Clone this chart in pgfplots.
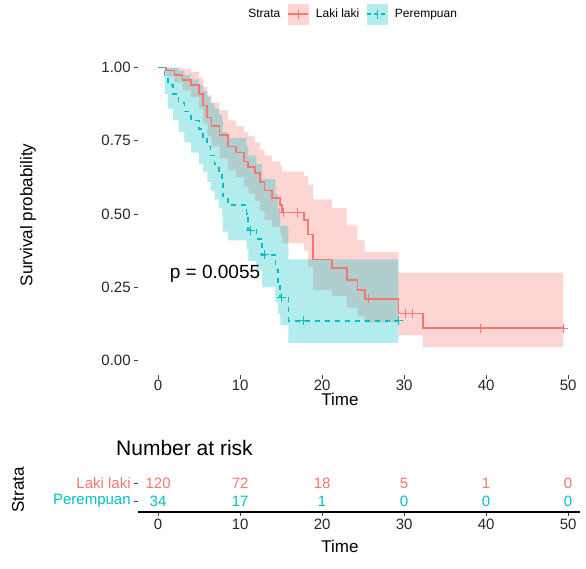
\documentclass[border=0pt]{standalone}
\usepackage{pgfplots}
\pgfplotsset{compat=1.18}
\usepackage{pgfplotstable}
\usepgfplotslibrary{fillbetween}
\usepackage{fontspec}
\setmainfont{Liberation Sans}
\definecolor{laki}{HTML}{F8766D}
\definecolor{pere}{HTML}{00BFC4}

\pgfplotstableread{
t S up lo
0 1 1 1
1 0.99 1 0.97
2 0.975 1 0.95
3 0.958 0.995 0.922
4 0.94 0.985 0.90
5 0.91 0.965 0.86
5.5 0.87 0.935 0.81
6 0.83 0.905 0.765
6.5 0.80 0.88 0.73
7.5 0.77 0.855 0.69
8.5 0.73 0.82 0.65
9.5 0.71 0.80 0.625
10.5 0.68 0.78 0.595
11 0.66 0.765 0.57
11.8 0.64 0.745 0.545
12.4 0.61 0.72 0.51
13 0.58 0.70 0.48
13.9 0.555 0.68 0.455
14.9 0.53 0.665 0.43
15.1 0.505 0.645 0.40
17.8 0.48 0.63 0.375
18.3 0.43 0.60 0.32
18.9 0.345 0.55 0.24
21.2 0.315 0.52 0.22
23 0.275 0.46 0.18
24.3 0.24 0.41 0.15
25.2 0.21 0.37 0.13
29.3 0.16 0.30 0.085
32.3 0.11 0.30 0.045
49.4 0.11 0.30 0.045
}\lakitab

\pgfplotstableread{
t S up lo
0 1 1 1
0.8 0.97 1 0.91
1.2 0.94 1 0.86
1.8 0.91 1 0.82
2.5 0.88 0.99 0.78
3.2 0.85 0.975 0.745
4.0 0.82 0.96 0.71
5.0 0.79 0.94 0.67
5.5 0.76 0.92 0.645
6.0 0.73 0.90 0.61
6.4 0.70 0.88 0.58
6.9 0.67 0.86 0.55
7.4 0.64 0.84 0.52
7.8 0.61 0.82 0.49
7.9 0.56 0.78 0.44
8.5 0.53 0.76 0.41
10.8 0.50 0.73 0.38
11.0 0.445 0.70 0.34
12.0 0.415 0.67 0.31
12.7 0.36 0.62 0.25
14.3 0.31 0.57 0.20
14.6 0.26 0.52 0.16
14.9 0.215 0.46 0.12
15.9 0.135 0.345 0.06
29.3 0.135 0.345 0.06
}\peretab

\begin{document}
\begin{tikzpicture}

\begin{axis}[
  at={(138pt,-375pt)}, anchor=south west,
  scale only axis, width=442pt, height=322pt,
  xmin=-2.45, xmax=51.45, ymin=-0.05, ymax=1.05,
  axis x line*=bottom, axis y line*=left,
  axis line style={draw=none},
  xtick={0,10,20,30,40,50}, xticklabels={0,10,20,30,40,50},
  ytick={0,0.25,0.5,0.75,1}, yticklabels={0.00,0.25,0.50,0.75,1.00},
  tick align=outside, major tick length=3.8pt,
  tick style={color=black!75, line width=0.7pt},
  ticklabel style={font=\fontsize{15}{18}\selectfont, text=black!85},
  xticklabel style={yshift=2.5pt},
  /pgf/number format/assume math mode=true,
  xlabel={Time}, ylabel={Survival probability},
  xlabel style={at={(rel axis cs:0.457,-0.075)}, anchor=center, font=\fontsize{17}{20}\selectfont},
  ylabel style={at={(rel axis cs:-0.249,0.497)}, anchor=center, font=\fontsize{17}{20}\selectfont},
  legend style={at={(0.48,1.121)}, anchor=center, draw=none, fill=none,
    font=\fontsize{12}{14}\selectfont,
    /tikz/every odd column/.append style={column sep=5pt},
    /tikz/every even column/.append style={column sep=5pt}},
  legend columns=-1,
]
\addlegendimage{empty legend}\addlegendentry{Strata}
\addlegendimage{legend image code/.code={
  \fill[laki!30] (0pt,-10pt) rectangle (20pt,10pt);
  \draw[laki, line width=1.6pt] (0pt,0pt) -- (20pt,0pt);
  \draw[laki, line width=1pt] (10pt,-4.5pt) -- (10pt,4.5pt);}}
\addlegendentry{Laki laki}
\addlegendimage{legend image code/.code={
  \fill[pere!30] (0pt,-10pt) rectangle (20pt,10pt);
  \draw[pere, line width=1.6pt, dash pattern=on 4pt off 3pt] (0pt,0pt) -- (20pt,0pt);
  \draw[pere, line width=1pt] (10pt,-4.5pt) -- (10pt,4.5pt);}}
\addlegendentry{Perempuan}

% confidence bands
\addplot[name path=lu, draw=none, const plot, forget plot] table[x=t,y=up]{\lakitab};
\addplot[name path=ll, draw=none, const plot, forget plot] table[x=t,y=lo]{\lakitab};
\addplot[fill=laki, fill opacity=0.3, draw=none, forget plot] fill between[of=lu and ll];
\addplot[name path=pu, draw=none, const plot, forget plot] table[x=t,y=up]{\peretab};
\addplot[name path=pl, draw=none, const plot, forget plot] table[x=t,y=lo]{\peretab};
\addplot[fill=pere, fill opacity=0.3, draw=none, forget plot] fill between[of=pu and pl];

% survival curves
\addplot[laki, const plot, line width=1.6pt, forget plot] table[x=t,y=S]{\lakitab};
\addplot[pere, const plot, line width=1.6pt, dash pattern=on 5pt off 5pt, forget plot] table[x=t,y=S]{\peretab};

% censor marks
\addplot[laki, only marks, mark=+, mark size=4.5pt, mark options={line width=1pt, solid}, forget plot]
  coordinates {(15.3,0.505) (17.0,0.505) (25.6,0.21) (30.2,0.16) (31.0,0.16) (39.3,0.11) (49.4,0.11)};
\addplot[pere, only marks, mark=+, mark size=4.5pt, mark options={line width=1pt, solid}, forget plot]
  coordinates {(11.3,0.445) (13.0,0.36) (15.1,0.215) (17.7,0.135) (29.3,0.135)};

\node[anchor=west, font=\fontsize{19}{22}\selectfont] at (axis cs:1.0,0.295) {p = 0.0055};
\end{axis}

\begin{axis}[
  at={(138pt,-512pt)}, anchor=south west,
  scale only axis, width=442pt, height=40pt,
  xmin=-2.45, xmax=51.45, ymin=0.4, ymax=2.6,
  axis x line*=bottom, axis y line*=left,
  y axis line style={draw=none},
  x axis line style={black, line width=1.3pt, -},
  xtick={0,10,20,30,40,50}, xticklabels={0,10,20,30,40,50},
  ytick={1,2}, yticklabels={\textcolor{pere}{Perempuan},\textcolor{laki}{Laki laki}},
  tick align=outside, major tick length=3.8pt,
  tick style={color=black!75, line width=0.7pt},
  ticklabel style={font=\fontsize{15}{18}\selectfont, text=black!85},
  xlabel={Time}, ylabel={Strata},
  xlabel style={at={(rel axis cs:0.457,-0.85)}, anchor=center, font=\fontsize{17}{20}\selectfont},
  ylabel style={at={(rel axis cs:-0.2715,0.55)}, anchor=center, font=\fontsize{17}{20}\selectfont},
  title={Number at risk},
  title style={at={(rel axis cs:0,1)}, anchor=base west, xshift=-22pt, yshift=11pt, inner sep=0pt, font=\fontsize{21}{25}\selectfont},
]
\addplot[draw=none, nodes near coords, point meta=explicit symbolic,
  every node near coord/.style={anchor=center, text=laki, font=\fontsize{15}{18}\selectfont}]
  coordinates {(0,2) [120] (10,2) [72] (20,2) [18] (30,2) [5] (40,2) [1] (50,2) [0]};
\addplot[draw=none, nodes near coords, point meta=explicit symbolic,
  every node near coord/.style={anchor=center, text=pere, font=\fontsize{15}{18}\selectfont}]
  coordinates {(0,1) [34] (10,1) [17] (20,1) [1] (30,1) [0] (40,1) [0] (50,1) [0]};
\end{axis}
\path (0,0) rectangle (586pt,-568pt);
\end{tikzpicture}
\end{document}
